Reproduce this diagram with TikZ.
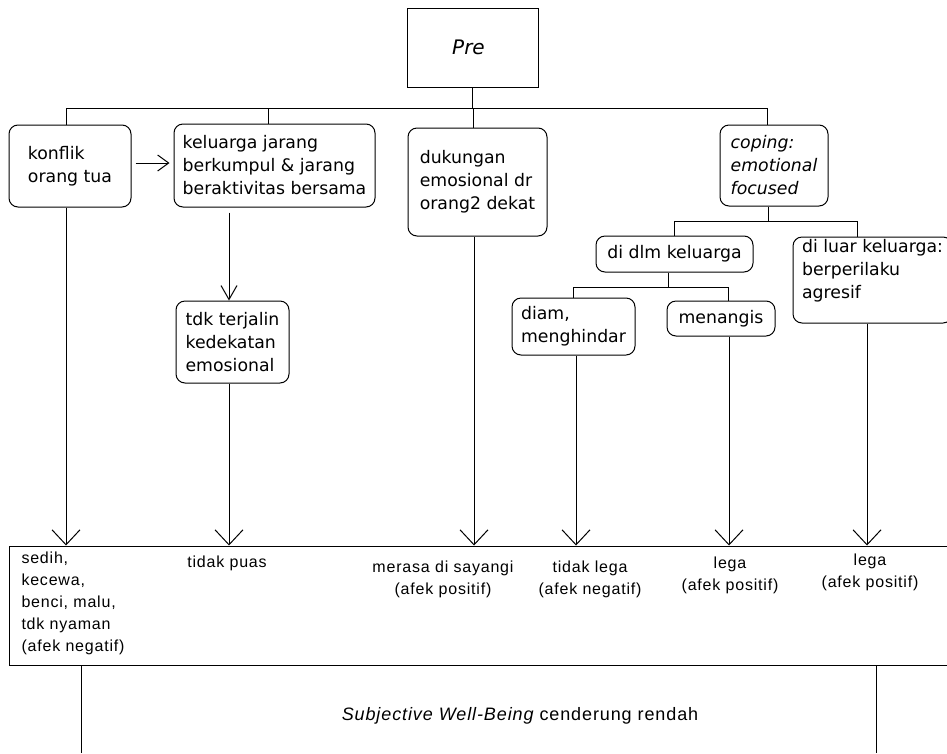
\documentclass[tikz,border=0pt]{standalone}
\usepackage{fontspec}
\setmainfont{DejaVu Sans}
\newfontfamily\lblfont[LetterSpace=5]{Liberation Sans}
\usetikzlibrary{arrows.meta}
\begin{document}
\begin{tikzpicture}[x=1pt,y=-1pt,line width=1pt,
  box/.style={draw,inner sep=0pt,align=left,font=\fontsize{17.3}{23}\selectfont},
  rbox/.style={box,rounded corners=9pt},
  lbl/.style={inner sep=0pt,font=\lblfont\fontsize{16}{22}\selectfont},
  arrbig/.style={-{Straight Barb[length=15pt,width=28pt]}},
  arrmid/.style={-{Straight Barb[length=14pt,width=16pt]}},
  arrsm/.style={-{Straight Barb[length=11pt,width=16pt]}}]
\useasboundingbox (0,0) rectangle (947,753);

% boxes
\node[box,minimum width=131pt,minimum height=79pt,font=\fontsize{20}{24}\selectfont] (pre) at (472.5,47.5) {\itshape Pre\hspace{8pt}};
\node[rbox,minimum width=122pt,minimum height=82pt] (konflik) at (70,166) {konflik\\orang tua};
\node[rbox,minimum width=201pt,minimum height=83pt] (kel) at (274.5,165.5) {keluarga jarang\\berkumpul \& jarang\\beraktivitas bersama};
\node[rbox,minimum width=113pt,minimum height=82pt] (tdk) at (232.5,342) {tdk terjalin\\kedekatan\\emosional};
\node[rbox,minimum width=139pt,minimum height=108pt] (duk) at (477.5,182) {dukungan\\emosional dr\\orang2 dekat};
\node[rbox,minimum width=108pt,minimum height=81pt] (cop) at (774,165.5) {\itshape coping:\\\itshape emotional\\\itshape focused};
\node[rbox,minimum width=157pt,minimum height=36pt] (dlm) at (674.5,254) {di dlm keluarga};
\node[rbox,minimum width=159pt,minimum height=86pt] (luar) at (872.5,280) {di luar keluarga:\\berperilaku\\agresif\\\mbox{}};
\node[rbox,minimum width=123pt,minimum height=57pt] (diam) at (573.5,326.5) {diam,\\menghindar};
\node[rbox,minimum width=108pt,minimum height=35pt] (men) at (721,318.5) {menangis};
\node[draw,inner sep=0pt,minimum width=946pt,minimum height=119pt] (out) at (482,605.5) {};

% outcome texts
\node[lbl,anchor=north west,align=left] (t1) at (21,551.5) {sedih,\\kecewa,\\benci, malu,\\tdk nyaman\\(afek negatif)};
\node[lbl,anchor=north,align=center] (t2) at (227,555.5) {tidak puas};
\node[lbl,anchor=north,align=center] (t3) at (443,560.5) {merasa di sayangi\\(afek positif)};
\node[lbl,anchor=north,align=center] (t4) at (590,560.5) {tidak lega\\(afek negatif)};
\node[lbl,anchor=north,align=center] (t5) at (730,556.5) {lega\\(afek positif)};
\node[lbl,anchor=north,align=center] (t6) at (870,553.5) {lega\\(afek positif)};
\node[lbl,anchor=base,font=\lblfont\fontsize{18}{22}\selectfont] (swb) at (520,720) {\itshape Subjective Well-Being\upshape{} cenderung rendah};

% tree connectors
\coordinate (busa) at (0,108);
\coordinate (busb) at (0,221);
\coordinate (busc) at (0,287);
\draw (pre.south) -- (pre.south |- busa);
\draw ([xshift=-4pt]konflik.north) |- ([xshift=-7pt]cop.north |- busa) -- ([xshift=-7pt]cop.north);
\draw ([xshift=-6.5pt]kel.north) -- ([xshift=-6.5pt]kel.north |- busa);
\draw ([xshift=-4.5pt]duk.north) -- ([xshift=-4.5pt]duk.north |- busa);
\draw ([xshift=-6pt]cop.south) -- ([xshift=-6pt]cop.south |- busb);
\draw (dlm.north) |- ([xshift=-15.5pt]luar.north |- busb) -- ([xshift=-15.5pt]luar.north);
\draw ([xshift=-6.5pt]dlm.south) -- ([xshift=-6.5pt]dlm.south |- busc);
\draw (diam.north) |- ([xshift=7pt]men.north |- busc) -- ([xshift=7pt]men.north);

% arrows
\draw[arrsm] ([xshift=4pt,yshift=3pt]konflik.east) -- ([xshift=-4pt,yshift=3pt]konflik.east -| kel.west);
\draw[arrmid] ([xshift=-45.5pt,yshift=-5pt]kel.south) -- ([xshift=-45.5pt]kel.south |- tdk.north);
\draw[arrbig] ([xshift=-4pt]konflik.south) -- ([xshift=-4pt]konflik.south |- out.north);
\draw[arrbig] ([xshift=-3.5pt]tdk.south) -- ([xshift=-3.5pt]tdk.south |- out.north);
\draw[arrbig] ([xshift=-3.5pt]duk.south) -- ([xshift=-3.5pt]duk.south |- out.north);
\draw[arrbig] ([xshift=2.5pt]diam.south) -- ([xshift=2.5pt]diam.south |- out.north);
\draw[arrbig] ([xshift=8pt]men.south) -- ([xshift=8pt]men.south |- out.north);
\draw[arrbig] ([xshift=-5.5pt]luar.south) -- ([xshift=-5.5pt]luar.south |- out.north);

% lower frame
\coordinate (bl) at (81,753);
\coordinate (br) at (876,753);
\draw (bl |- out.south) -- (bl);
\draw (br |- out.south) -- (br);
\end{tikzpicture}
\end{document}
